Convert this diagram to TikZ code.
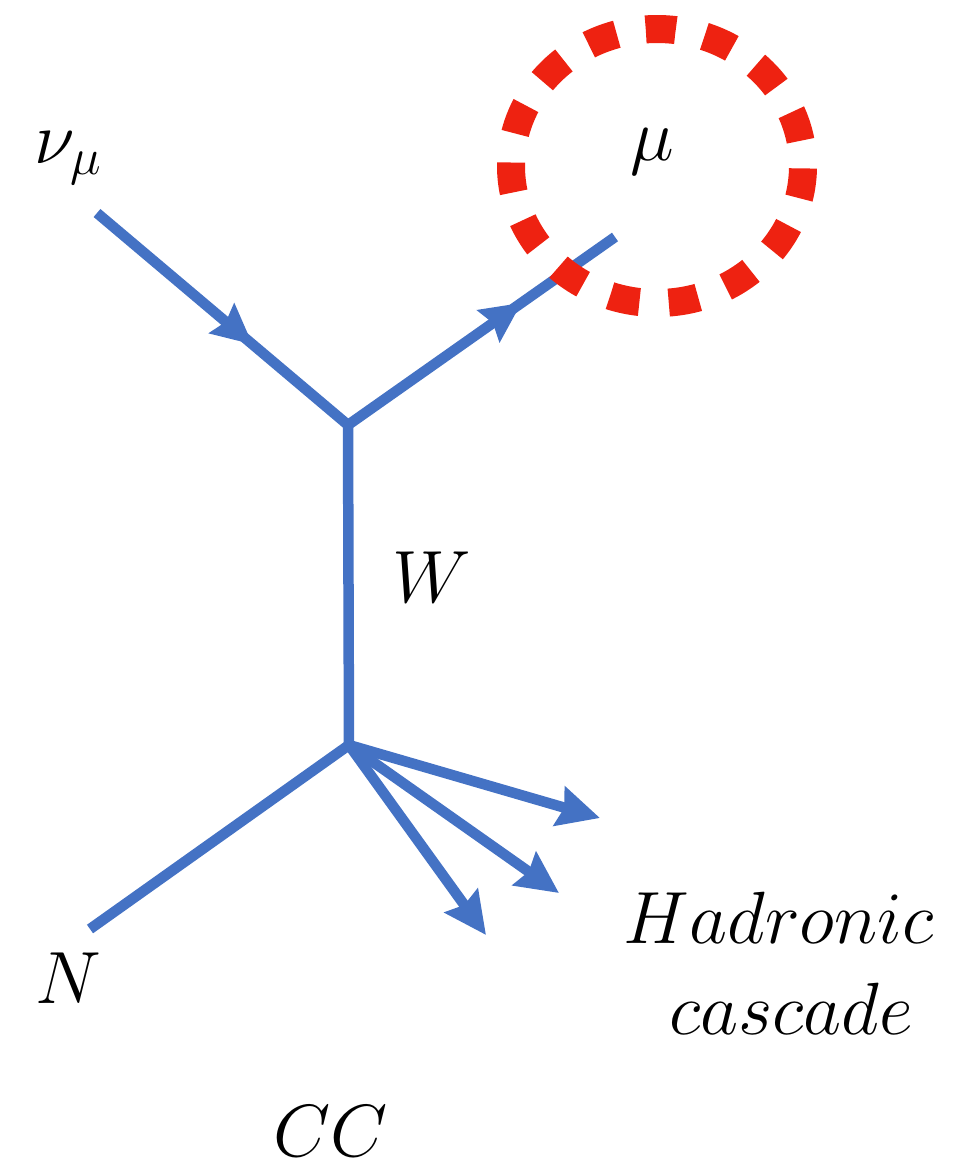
\documentclass[tikz,border=0pt]{standalone}
\usepackage{fix-cm}
\usepackage{tikz}
\usetikzlibrary{arrows.meta,decorations.markings}
\definecolor{propblue}{RGB}{68,114,196}
\definecolor{circred}{RGB}{238,34,17}

\begin{document}
\begin{tikzpicture}[
  x=1pt, y=-1pt,
  font=\fontsize{74}{91}\selectfont, >={Stealth[length=42pt,width=40pt,inset=5pt]},
  prop/.style={color=propblue,line width=10.5pt},
  midarr/.style={postaction={decorate},
    decoration={markings,mark=at position #1 with {\arrow{Stealth[length=40pt,width=38pt,inset=5pt]}}}},
  lbl/.style={inner sep=0pt,anchor=base},
  ring/.style={draw=circred,line width=28pt,dash pattern=on 30pt off 29.4pt,dash phase=34pt}
]
\useasboundingbox (0,0) rectangle (954,1171);
% vertices and free ends
\coordinate (vtop) at (348,425);
\coordinate (vbot) at (349,745);
\coordinate (nuin) at (97,213);
\coordinate (muout) at (615,237);
\coordinate (nin) at (90,929);
\coordinate (had1) at (600,818);
\coordinate (had2) at (559,893);
\coordinate (had3) at (486,935);
% propagators
\draw[prop,midarr=0.62] (nuin) -- (vtop);
\draw[prop,midarr=0.65] (vtop) -- (muout);
\draw[prop] (vtop) -- (vbot);
\draw[prop] (nin) -- (vbot);
\draw[prop,->] (vbot) -- (had1);
\draw[prop,->] (vbot) -- (had2);
\draw[prop,->] (vbot) -- (had3);
% muon marked
\draw[ring] (657,166) ellipse [x radius=146pt,y radius=137pt];
% labels
\node[lbl,anchor=base west] (nulbl) at (34,163) {$\nu_\mu$};
\node[lbl] (mulbl) at (652,160) {$\mu$};
\node[lbl] (wlbl) at (432,602) {$W$};
\node[lbl] (nlbl) at (68,1003) {$N$};
\node[lbl] (hadr) at (779,943) {$Hadronic$};
\node[lbl] (casc) at (791,1034) {$cascade$};
\node[lbl] (cclbl) at (331,1156) {$CC$};
\end{tikzpicture}
\end{document}
